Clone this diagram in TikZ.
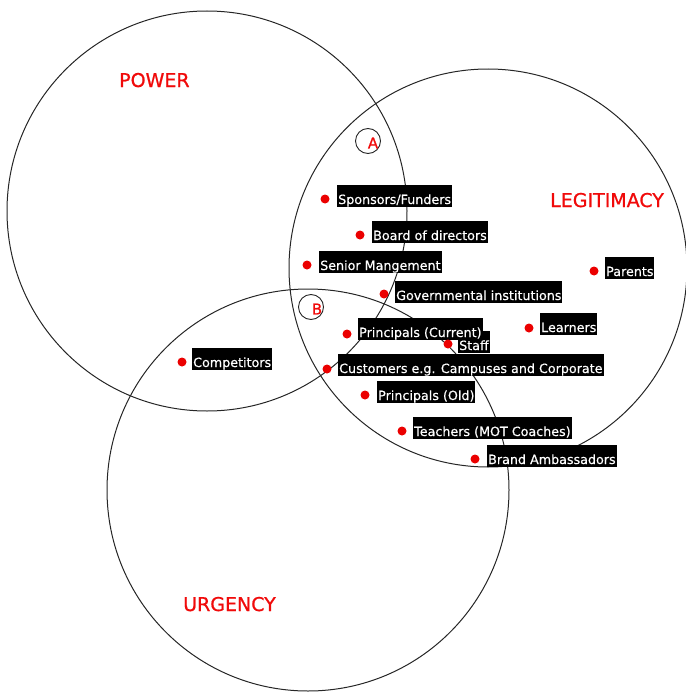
\documentclass[tikz,border=0pt]{standalone}
\usepackage{fontspec}
\setmainfont{DejaVu Sans}
\newfontfamily\titlefont[FakeBold=0.9]{DejaVu Sans}
\newfontfamily\tagfont[FakeBold=0.4]{DejaVu Sans}
\definecolor{setred}{RGB}{240,10,10}
\definecolor{dotred}{RGB}{235,0,0}
\tikzset{
  setcircle/.style={draw=black!85, line width=1pt},
  settitle/.style={text=setred, font=\titlefont\fontsize{19pt}{19pt}\selectfont, inner sep=0pt, anchor=base west},
  tag/.style={fill=black, text=white, font=\tagfont\fontsize{12.7pt}{13pt}\selectfont,
    inner xsep=1pt, inner ysep=0pt, text height=19pt, text depth=3pt, anchor=base west},
  reddot/.style={circle, fill=dotred, inner sep=0pt, minimum size=9pt},
  zonering/.style={circle, draw=black!85, line width=0.9pt, minimum size=25pt, inner sep=0pt},
  zoneletter/.style={text=setred, font=\titlefont\fontsize{15pt}{15pt}\selectfont, inner sep=0pt}
}
\begin{document}
\begin{tikzpicture}[x=1pt, y=-1pt]
\useasboundingbox (0,0) rectangle (685,693);

% the three stakeholder attributes
\draw[setcircle] (207,211) circle (200);
\draw[setcircle] (488,268) circle (199);
\draw[setcircle] (308,490) circle (201);

\node[settitle] (power) at (119,87) {POWER};
\node[settitle] (legit) at (550,207) {LEGITIMACY};
\node[settitle] (urgency) at (183,611) {URGENCY};

% overlap zones
\node[zonering] (ringA) at (368,141) {};
\node[zoneletter] (letA) at (373,143) {A};
\node[zonering] (ringB) at (311,307) {};
\node[zoneletter] (letB) at (317,309) {B};

% stakeholder labels
\node[tag] (sponsors) at (337,204) {Sponsors/Funders};
\node[tag] (board) at (372,240) {Board of directors};
\node[tag] (senior) at (319,270) {Senior Mangement};
\node[tag] (gov) at (395,300) {Governmental institutions};
\node[tag] (parents) at (605,276) {Parents};
\node[tag] (staff) at (458,350) {Staff};
\node[tag] (princur) at (358,337) {Principals (Current)};
\node[tag] (learners) at (540,332) {Learners};
\node[tag] (customers) at (338,373) {Customers e.g. Campuses and Corporate};
\node[tag] (prinold) at (377,400) {Principals (Old)};
\node[tag] (teachers) at (413,436) {Teachers (MOT Coaches)};
\node[tag] (brand) at (487,464) {Brand Ambassadors};
\node[tag] (competitors) at (192,367) {Competitors};

% stakeholder markers
\node[reddot] (dsponsors) at (325,199) {};
\node[reddot] (dboard) at (360,235) {};
\node[reddot] (dsenior) at (307,265) {};
\node[reddot] (dgov) at (384,294) {};
\node[reddot] (dparents) at (594,271) {};
\node[reddot] (dprincur) at (347,334) {};
\node[reddot] (dlearners) at (529,328) {};
\node[reddot] (dstaff) at (448,344) {};
\node[reddot] (dcustomers) at (327,369) {};
\node[reddot] (dprinold) at (365,395) {};
\node[reddot] (dteachers) at (402,431) {};
\node[reddot] (dbrand) at (475,459) {};
\node[reddot] (dcompetitors) at (182,362) {};
\end{tikzpicture}
\end{document}
